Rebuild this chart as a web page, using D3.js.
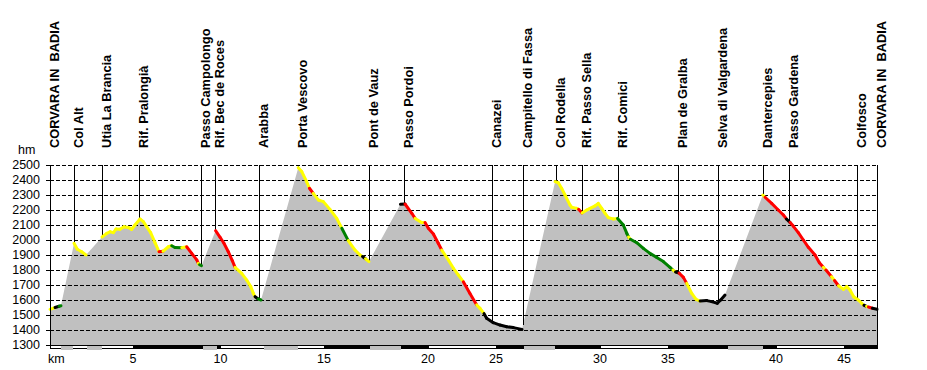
<!DOCTYPE html>
<html>
<head>
<meta charset="utf-8">
<script src="https://cdn.jsdelivr.net/npm/d3@7"></script>
<style>
  body { margin: 0; background: #fff; }
  text { font-family: "Liberation Sans", Arial, sans-serif; }
</style>
</head>
<body>
<div id="chartContainer"></div>
<script>
// profile: distance along route (incl. lifts), elevation, and slope class of the segment that starts at the point
// y = yellow, r = red, g = green, k = black, - = lift (no run line)
const dist = [0.00, 0.29, 0.52, 0.63, 1.38, 1.57, 1.82, 2.07, 2.99, 3.26, 3.45, 3.64, 3.79, 4.02, 4.25, 4.50, 4.69, 4.88, 5.17, 5.36,
  5.55, 5.78, 6.03, 6.26, 6.49, 6.80, 6.99, 7.18, 7.57, 7.85, 8.14, 8.43, 8.52, 8.59, 8.70, 9.51, 9.77, 9.99, 10.24, 10.47,
  10.63, 11.01, 11.30, 11.53, 11.68, 11.78, 11.96, 12.12, 14.26, 14.46, 14.74, 14.90, 15.12, 15.41, 15.70, 16.08, 16.47, 16.76, 17.13, 17.52,
  17.81, 17.95, 18.12, 18.32, 20.13, 20.39, 20.78, 20.97, 21.35, 21.54, 21.73, 22.02, 22.30, 22.50, 22.88, 23.17, 23.45, 23.74, 24.12, 24.51,
  24.70, 24.93, 25.08, 25.46, 25.85, 26.23, 26.61, 27.11, 29.01, 29.20, 29.39, 29.58, 29.87, 29.97, 30.25, 30.36, 30.56, 30.83, 31.02, 31.30,
  31.49, 31.69, 31.88, 32.07, 32.36, 32.60, 32.93, 33.13, 33.23, 33.34, 33.70, 34.08, 34.46, 34.85, 35.23, 35.61, 35.78, 35.93, 36.13, 36.38,
  36.57, 36.86, 37.11, 37.34, 37.72, 38.01, 38.33, 38.52, 38.77, 40.94, 41.07, 41.45, 41.83, 42.12, 42.30, 42.50, 42.69, 42.98, 43.27, 43.56,
  43.94, 44.19, 44.42, 44.57, 44.89, 45.06, 45.29, 45.57, 45.76, 45.95, 46.16, 46.43, 46.62, 46.75, 46.90, 47.01, 47.24, 47.50];
const elev = [1538, 1550, 1558, 1562, 1978, 1938, 1922, 1900, 2020, 2044, 2055, 2049, 2073, 2071, 2089, 2084, 2071, 2100, 2140, 2122,
  2089, 2049, 1982, 1922, 1925, 1955, 1962, 1950, 1948, 1955, 1911, 1867, 1844, 1835, 1829, 2062, 2018, 1978, 1922, 1862,
  1818, 1778, 1733, 1689, 1644, 1622, 1607, 1600, 2482, 2456, 2389, 2345, 2311, 2267, 2256, 2204, 2144, 2078, 1996, 1933,
  1900, 1890, 1875, 1856, 2238, 2240, 2178, 2144, 2116, 2116, 2078, 2040, 1978, 1933, 1867, 1811, 1767, 1722, 1644, 1567,
  1544, 1509, 1478, 1449, 1433, 1422, 1416, 1404, 2389, 2382, 2344, 2300, 2233, 2218, 2211, 2205, 2180, 2200, 2211, 2227,
  2244, 2211, 2178, 2149, 2140, 2144, 2100, 2044, 2020, 2005, 1982, 1944, 1911, 1884, 1856, 1818, 1800, 1787, 1780, 1751,
  1711, 1644, 1604, 1593, 1596, 1589, 1578, 1600, 1633, 2300, 2285, 2244, 2200, 2167, 2140, 2118, 2093, 2049, 2000, 1951,
  1900, 1849, 1818, 1800, 1755, 1730, 1695, 1671, 1689, 1667, 1622, 1600, 1578, 1565, 1558, 1553, 1545, 1538];
const grade = ["y", "k", "g", "-", "y", "y", "y", "-", "y", "y", "y", "y", "y", "y", "y", "y", "y", "y", "y", "y",
  "y", "y", "y", "r", "y", "y", "g", "g", "y", "r", "r", "r", "y", "g", "-", "r", "r", "r", "r", "r",
  "y", "y", "y", "y", "y", "k", "g", "-", "y", "y", "y", "r", "y", "y", "y", "y", "y", "g", "y", "y",
  "y", "k", "y", "-", "k", "r", "r", "y", "y", "r", "r", "r", "r", "y", "y", "y", "y", "r", "r", "y",
  "y", "k", "k", "k", "k", "k", "k", "-", "y", "y", "y", "y", "y", "y", "y", "r", "y", "y", "y", "y",
  "y", "y", "y", "y", "y", "g", "g", "g", "y", "g", "g", "g", "g", "g", "g", "g", "y", "k", "r", "r",
  "y", "y", "y", "k", "k", "k", "k", "k", "-", "y", "r", "r", "r", "r", "k", "r", "r", "r", "r", "r",
  "r", "r", "y", "r", "y", "r", "y", "y", "y", "y", "y", "y", "y", "k", "y", "r", "k"];

// named places along the route
const placeNames = ["CORVARA IN  BADIA", "Col Alt", "Utia La Brancia", "Rif. Pralongià", "Passo Campolongo", "Rif. Bec de Roces",
  "Arabba", "Porta Vescovo", "Pont de Vauz", "Passo Pordoi", "Canazei", "Campitello di Fassa", "Col Rodella", "Rif. Passo Sella",
  "Rif. Comici", "Plan de Gralba", "Selva di Valgardena", "Dantercepies", "Passo Gardena", "Colfosco", "CORVARA IN  BADIA"];
const placeDist = [0.00, 1.38, 2.99, 5.11, 8.67, 9.48, 12.00, 14.24, 18.32, 20.33, 25.39, 27.17, 29.06, 30.56,
  32.62, 36.07, 38.37, 40.95, 42.45, 46.35, 47.50];

// km marks (where each 5 km of piste is reached) and lift stretches in the bottom band
const kmLabels = ["5", "10", "15", "20", "25", "30", "35", "40", "45"];
const kmDist = [4.77, 9.79, 15.74, 21.71, 25.62, 31.59, 35.50, 41.70, 45.61];
const liftStart = [0.57, 2.07, 8.73, 12.23, 18.32, 27.17, 38.89];
const liftEnd = [1.32, 2.99, 9.59, 14.24, 20.16, 29.01, 40.95];

const elevTicks = [1300, 1400, 1500, 1600, 1700, 1800, 1900, 2000, 2100, 2200, 2300, 2400, 2500];

const colors = { y: "#ffff00", r: "#ff0000", g: "#008000", k: "#000000" };

const width = 927;
const height = 370;
const plotLeft = 50, plotRight = 877, plotTop = 165, plotBottom = 345;

const svg = d3.select("#chartContainer")
  .append("svg")
  .attr("width", width)
  .attr("height", height);

const x = d3.scaleLinear().domain([0, 47.5]).range([plotLeft, plotRight]);
const y = d3.scaleLinear().domain([1300, 2500]).range([plotBottom, plotTop]);

const points = dist.map((d, i) => ({ d: d, e: elev[i], g: grade[i] }));

function elevAt(d) {
  const i = d3.bisectLeft(dist, d);
  if (i <= 0) return elev[0];
  if (i >= dist.length) return elev[elev.length - 1];
  const t = (d - dist[i - 1]) / (dist[i] - dist[i - 1]);
  return elev[i - 1] + t * (elev[i] - elev[i - 1]);
}

// gray profile
const area = d3.area()
  .x(p => x(p.d))
  .y0(y(1300) + 4)
  .y1(p => y(p.e));

svg.append("path")
  .datum(points)
  .attr("d", area)
  .attr("fill", "#c0c0c0");

// dashed grid
svg.append("g")
  .attr("shape-rendering", "crispEdges")
  .selectAll("line")
  .data(elevTicks)
  .enter()
  .append("line")
  .attr("x1", plotLeft)
  .attr("x2", plotRight)
  .attr("y1", d => y(d) + 0.5)
  .attr("y2", d => y(d) + 0.5)
  .attr("stroke", "#000")
  .attr("stroke-dasharray", "4,2");

// place markers
svg.append("g")
  .attr("shape-rendering", "crispEdges")
  .selectAll("line")
  .data(placeDist)
  .enter()
  .append("line")
  .attr("x1", d => Math.round(x(d)) + 0.5)
  .attr("x2", d => Math.round(x(d)) + 0.5)
  .attr("y1", plotTop)
  .attr("y2", d => y(elevAt(d)))
  .attr("stroke", "#000");

svg.append("g")
  .selectAll("text")
  .data(placeNames)
  .enter()
  .append("text")
  .attr("transform", (d, i) => `translate(${Math.round(x(placeDist[i])) + 9}, 148) rotate(-90)`)
  .attr("font-size", "12.8px")
  .attr("font-weight", "bold")
  .style("white-space", "pre")
  .text(d => d);

// piste line, coloured by slope
const segs = points.slice(0, -1)
  .map((p, i) => ({ a: p, b: points[i + 1], g: p.g }))
  .filter(s => s.g !== "-");

svg.append("g")
  .selectAll("line")
  .data(segs)
  .enter()
  .append("line")
  .attr("x1", s => x(s.a.d))
  .attr("y1", s => y(s.a.e))
  .attr("x2", s => x(s.b.d))
  .attr("y2", s => y(s.b.e))
  .attr("stroke", s => colors[s.g])
  .attr("stroke-width", 3)
  .attr("stroke-linecap", "round");

// km band
const bandTop = y(1300);
const bounds = [0].concat(kmDist, [47.5]);
const band = svg.append("g").attr("shape-rendering", "crispEdges");

band.selectAll("rect.km")
  .data(d3.range(bounds.length - 1))
  .enter()
  .append("rect")
  .attr("class", "km")
  .attr("x", i => x(bounds[i]) + 0.5)
  .attr("y", bandTop + 0.5)
  .attr("width", i => x(bounds[i + 1]) - x(bounds[i]))
  .attr("height", 3)
  .attr("fill", i => (i % 2 === 0 ? "#fff" : "#000"))
  .attr("stroke", "#000");

band.selectAll("rect.lift")
  .data(liftStart)
  .enter()
  .append("rect")
  .attr("class", "lift")
  .attr("x", (d, i) => x(d) + 1)
  .attr("y", bandTop + 1)
  .attr("width", (d, i) => x(liftEnd[i]) - x(d) - 1)
  .attr("height", 3.5)
  .attr("fill", "#c0c0c0");

band.append("line")
  .attr("x1", plotLeft)
  .attr("x2", plotRight)
  .attr("y1", bandTop + 0.5)
  .attr("y2", bandTop + 0.5)
  .attr("stroke", "#000")
  .attr("stroke-dasharray", "4,2");

// frame
svg.append("line")
  .attr("x1", plotLeft + 0.5).attr("x2", plotLeft + 0.5)
  .attr("y1", plotTop).attr("y2", bandTop + 4)
  .attr("stroke", "#000");
svg.append("line")
  .attr("x1", plotRight + 0.5).attr("x2", plotRight + 0.5)
  .attr("y1", plotTop).attr("y2", bandTop + 4)
  .attr("stroke", "#000");

// elevation axis
svg.append("g")
  .attr("shape-rendering", "crispEdges")
  .selectAll("line")
  .data(elevTicks)
  .enter()
  .append("line")
  .attr("x1", plotLeft - 4)
  .attr("x2", plotLeft)
  .attr("y1", d => y(d) + 0.5)
  .attr("y2", d => y(d) + 0.5)
  .attr("stroke", "#000");

svg.append("g")
  .selectAll("text")
  .data(elevTicks)
  .enter()
  .append("text")
  .attr("x", plotLeft - 10)
  .attr("y", d => y(d))
  .attr("dy", "0.35em")
  .attr("text-anchor", "end")
  .attr("font-size", "12.5px")
  .text(d => d);

svg.append("text")
  .attr("x", 18)
  .attr("y", 154)
  .attr("font-size", "12.5px")
  .text("hm");

// km axis
svg.append("text")
  .attr("x", 48)
  .attr("y", 363)
  .attr("font-size", "12.5px")
  .text("km");

svg.append("g")
  .selectAll("text")
  .data(kmLabels)
  .enter()
  .append("text")
  .attr("x", (d, i) => x(kmDist[i]))
  .attr("y", 363)
  .attr("text-anchor", "middle")
  .attr("font-size", "12.5px")
  .text(d => d);
</script>
</body>
</html>
